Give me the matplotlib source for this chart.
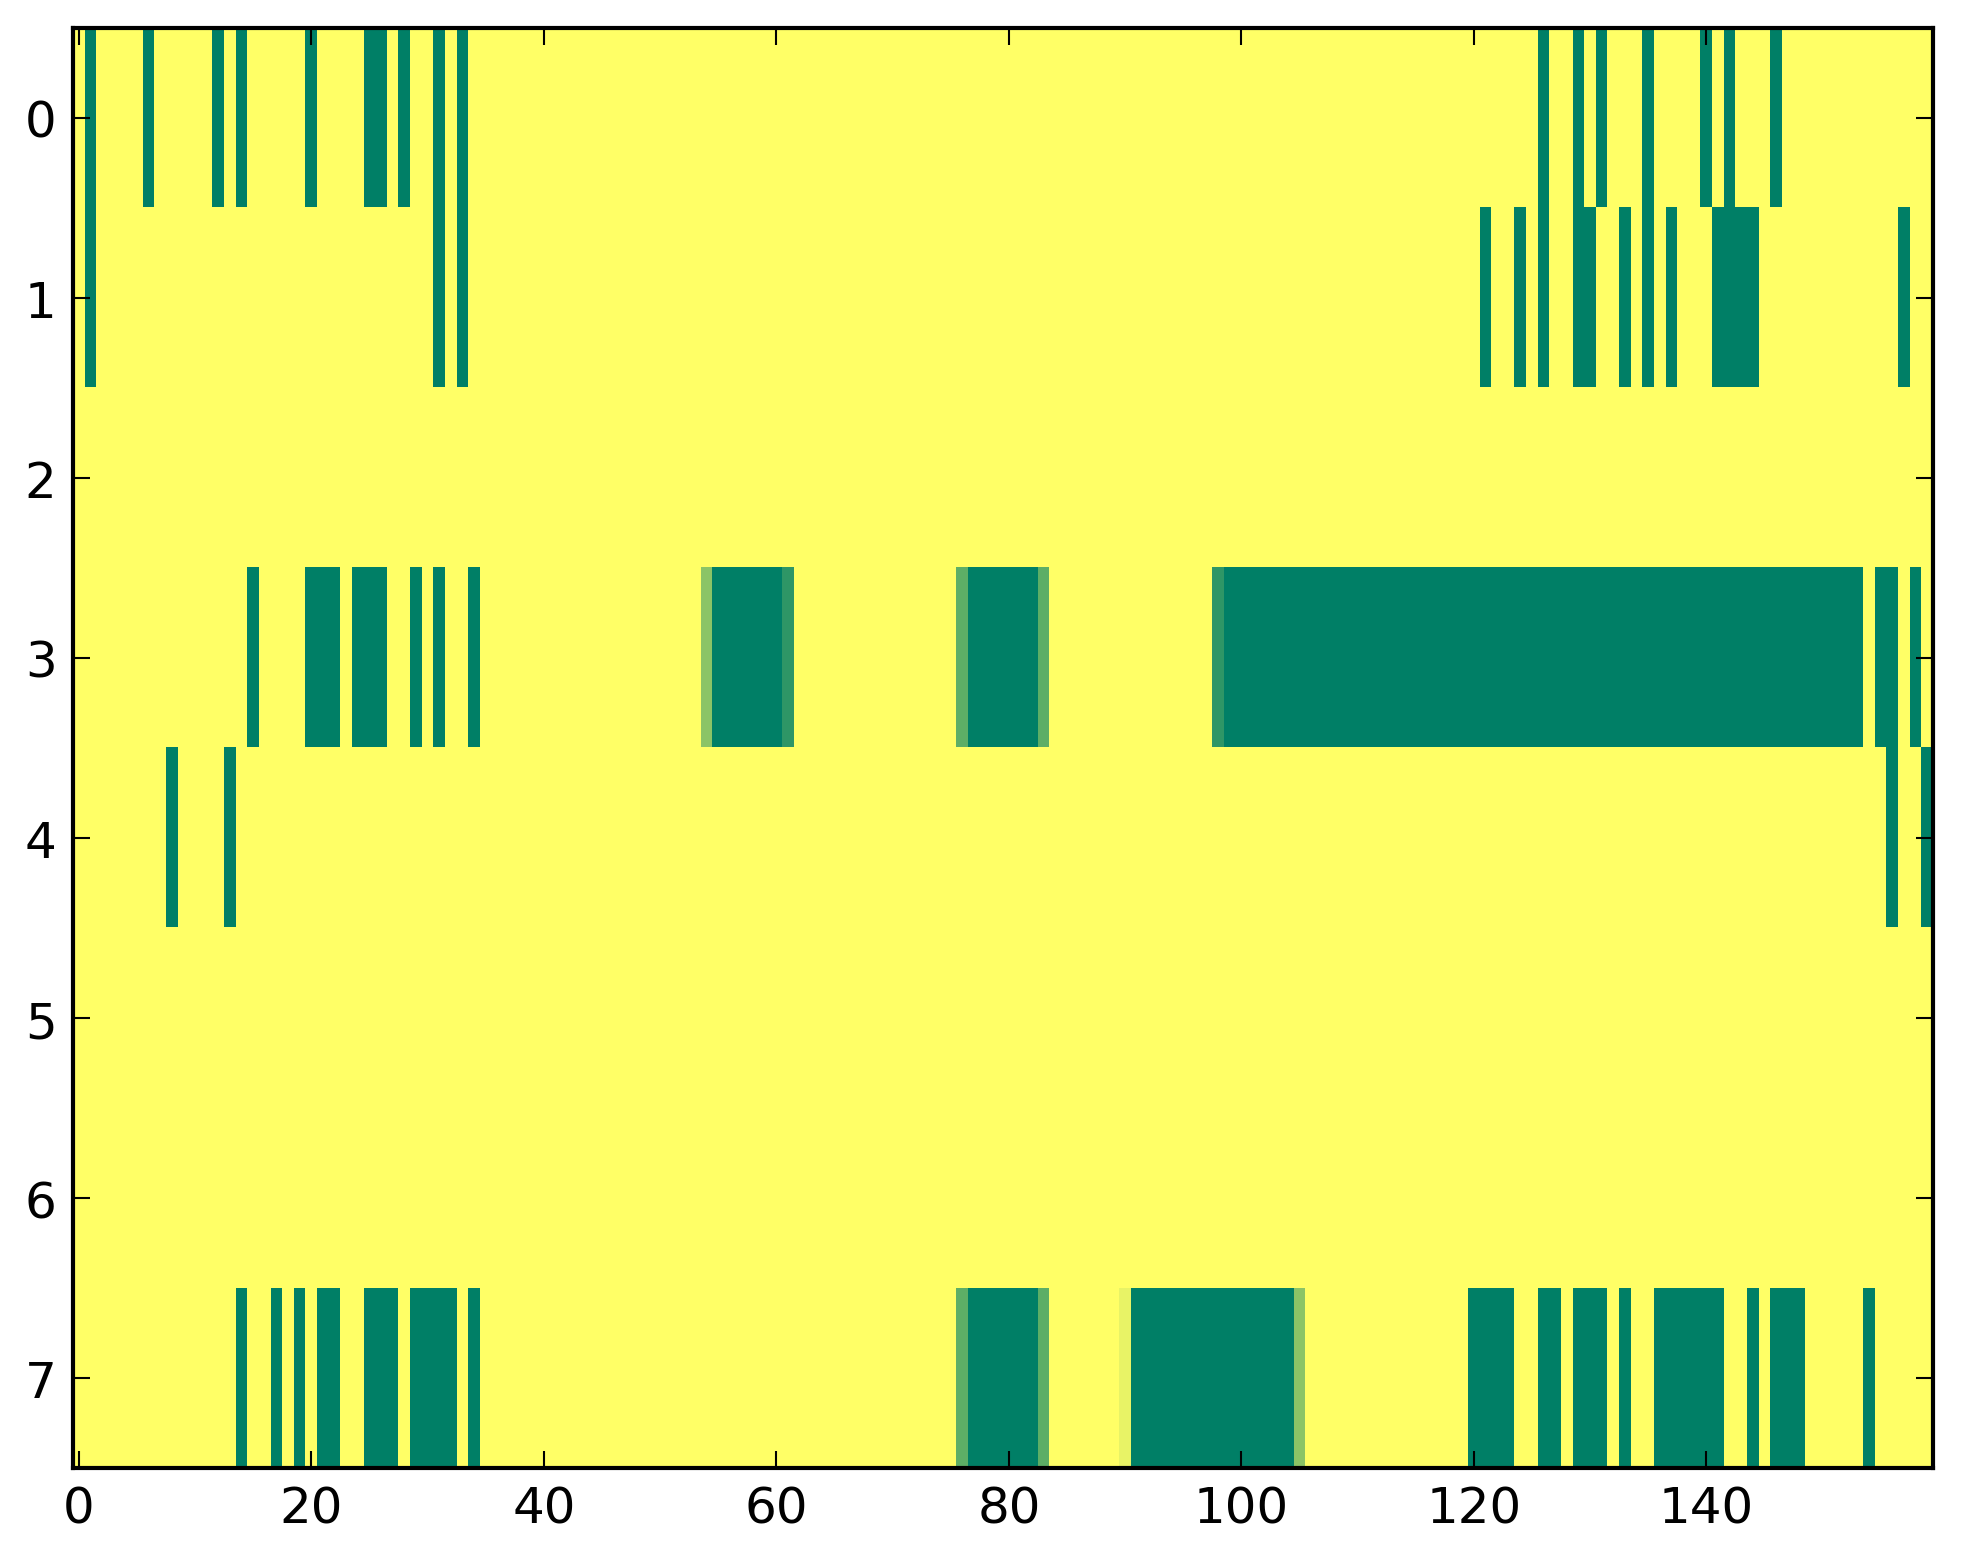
import numpy as np
import matplotlib
matplotlib.use("Agg")
import matplotlib.pyplot as plt

n_rows = 8
n_cols = 160

# green (value 0) runs per row, as (first, last) column, inclusive
row0_runs = [(1, 1), (6, 6), (12, 12), (14, 14), (20, 20), (25, 26), (28, 28),
             (31, 31), (33, 33), (126, 126), (129, 129), (131, 131), (135, 135),
             (140, 140), (142, 142), (146, 146)]
row1_runs = [(1, 1), (31, 31), (33, 33), (121, 121), (124, 124), (126, 126),
             (129, 130), (133, 133), (135, 135), (137, 137), (141, 144), (157, 157)]
row2_runs = []
row3_runs = [(15, 15), (20, 22), (24, 26), (29, 29), (31, 31), (34, 34), (55, 60),
             (77, 82), (99, 153), (155, 156), (158, 158)]
row4_runs = [(8, 8), (13, 13), (156, 156), (159, 159)]
row5_runs = []
row6_runs = []
row7_runs = [(14, 14), (17, 17), (19, 19), (21, 22), (25, 27), (29, 32), (34, 34),
             (77, 82), (91, 104), (120, 123), (126, 127), (129, 131), (133, 133),
             (136, 141), (144, 144), (146, 148), (154, 154)]

# partially filled cells: (row, col, value)
partial_cells = [(3, 54, 6 / 11), (3, 61, 2 / 11), (3, 76, 4 / 11), (3, 83, 4 / 11),
                 (3, 98, 2 / 11), (7, 76, 4 / 11), (7, 83, 4 / 11), (7, 90, 10 / 11),
                 (7, 105, 6 / 11)]

all_runs = [row0_runs, row1_runs, row2_runs, row3_runs,
            row4_runs, row5_runs, row6_runs, row7_runs]

data = np.ones((n_rows, n_cols))
for r, runs in enumerate(all_runs):
    for a, b in runs:
        data[r, a:b + 1] = 0.0
for r, c, v in partial_cells:
    data[r, c] = v

plt.rcParams['font.family'] = 'DejaVu Sans'
plt.rcParams['font.size'] = 12
plt.rcParams['xtick.direction'] = 'in'
plt.rcParams['ytick.direction'] = 'in'
plt.rcParams['xtick.top'] = True
plt.rcParams['ytick.right'] = True
plt.rcParams['xtick.major.size'] = 4
plt.rcParams['ytick.major.size'] = 4
plt.rcParams['xtick.major.width'] = 0.5
plt.rcParams['ytick.major.width'] = 0.5
plt.rcParams['xtick.major.pad'] = 4
plt.rcParams['ytick.major.pad'] = 4
plt.rcParams['axes.linewidth'] = 1.0

fig = plt.figure(figsize=(1963 / 300, 1564 / 300), dpi=300)
ax = fig.add_axes([0.0373, 0.0607, 0.9474, 0.9208])
ax.imshow(data, cmap='summer', vmin=0, vmax=1, aspect='auto', interpolation='nearest')
ax.set_xticks([0, 20, 40, 60, 80, 100, 120, 140])
ax.set_yticks(range(8))
ax.set_xlim(-0.5, 159.5)
ax.set_ylim(7.5, -0.5)

fig.savefig("out.png", dpi=300, facecolor='white')
